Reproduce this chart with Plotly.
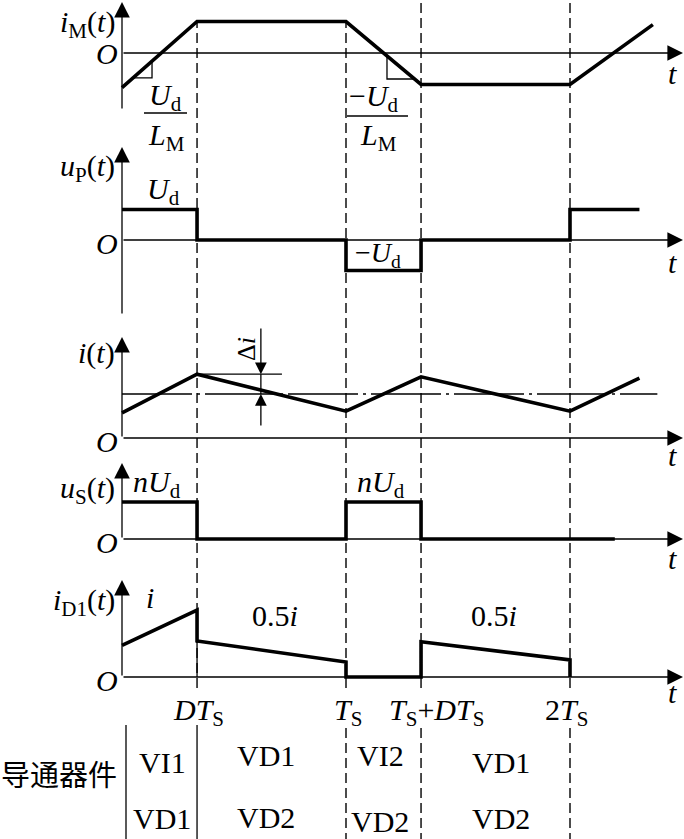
import plotly.graph_objects as go

W, H = 684, 839

# ---------------- data (time in units of T_S) ----------------
D = 0.335
tick_t = [D, 1.0, 1.0 + D, 2.0]
tick_labels = ["<i>DT</i><sub>S</sub>", "<i>T</i><sub>S</sub>",
               "<i>T</i><sub>S</sub>+<i>DT</i><sub>S</sub>", "2<i>T</i><sub>S</sub>"]

iM_t = [0, D, 1, 1 + D, 2, 2.37]
iM_v = [-1.1, 1.0, 1.0, -1.0, -1.0, 0.9]

uP_t = [0, D, D, 1, 1, 1 + D, 1 + D, 2, 2, 2.31]
uP_v = [1, 1, 0, 0, -1, -1, 0, 0, 1, 1]

i_t = [0, D, 1, 1 + D, 2, 2.31]
i_v = [0.57, 1.45, 0.61, 1.39, 0.61, 1.36]
i_avg = 1.0
i_avg_end = 2.39

uS_t = [0, D, D, 1, 1, 1 + D, 1 + D, 2.2]
uS_v = [1, 1, 0, 0, 1, 1, 0, 0]

iD1_t = [0, D, D, 1, 1, 1 + D, 1 + D, 2, 2]
iD1_v = [0.72, 1.52, 0.82, 0.34, 0, 0, 0.80, 0.39, 0]

# slope triangles on i_M
tri1_t = [0.05, 0.134, 0.134]
tri1_v = [-0.79, -0.79, -0.26]
tri2_t = [1.183, 1.183, 1.306]
tri2_v = [-0.09, -0.825, -0.825]

row1 = ["VI1", "VD1", "VI2", "VD1"]
row2 = ["VD1", "VD2", "VD2", "VD2"]
row_lbl = "导通器件"

# ---------------- layout helpers ----------------
X0, PXT = 122.0, 224.0          # pixel of t=0, pixels per T_S
T_END = (683 - X0) / PXT        # arrow tip of time axes


def XP(px):  # pixel -> paper x
    return px / W


def YP(py):  # pixel -> paper y
    return 1 - py / H


# panel: (axis name, zero pixel, pixels per unit, axis top tip px, axis bottom px)
panels = [
    ("y", 53, 31.5, 2, 110),
    ("y2", 240, 30.5, 147, 315),
    ("y3", 438, 44.0, 337, 438),
    ("y4", 539, 37.0, 463, 539),
    ("y5", 677, 44.0, 580, 677),
]

SERIF = "Liberation Serif"
BLACK = "black"
THICK = 3.6
THIN = 1.3
FS = 30

fig = go.Figure()


def line_trace(tt, vv, yax, width=THICK, dash=None):
    fig.add_trace(go.Scatter(x=tt, y=vv, xaxis="x", yaxis=yax, mode="lines",
                             line=dict(color=BLACK, width=width, dash=dash),
                             hoverinfo="skip", showlegend=False))


line_trace(iM_t, iM_v, "y")
line_trace(tri1_t, tri1_v, "y", width=THIN)
line_trace(tri2_t, tri2_v, "y", width=THIN)
line_trace(uP_t, uP_v, "y2")
line_trace([0, i_avg_end], [i_avg, i_avg], "y3", width=THIN, dash="70px,5px,3px,5px")
line_trace(i_t, i_v, "y3")
line_trace([i_t[1], 0.714], [i_v[1], i_v[1]], "y3", width=THIN)
line_trace(uS_t, uS_v, "y4")
line_trace([iD1_t[2], iD1_t[2]], [0, iD1_v[2]], "y5", width=THIN)
line_trace(iD1_t, iD1_v, "y5")

annotations = []
shapes = []

# axes with arrows
for name, zero, scale, top, bot in panels:
    v_top = (zero - top) / scale
    v_bot = (zero - bot) / scale
    annotations.append(dict(x=T_END, y=0, ax=0, ay=0, xref="x", yref=name,
                            axref="x", ayref=name, text="", showarrow=True,
                            arrowhead=2, arrowsize=2.4, arrowwidth=THIN,
                            arrowcolor=BLACK, standoff=0))
    annotations.append(dict(x=0, y=v_top, ax=0, ay=v_bot, xref="x", yref=name,
                            axref="x", ayref=name, text="", showarrow=True,
                            arrowhead=2, arrowsize=2.4, arrowwidth=THIN,
                            arrowcolor=BLACK, standoff=0))

# delta-i dimension arrows (panel 3)
di_t = 0.62
annotations.append(dict(x=di_t, y=i_v[1], ax=di_t, ay=2.52, xref="x", yref="y3",
                        axref="x", ayref="y3", text="", showarrow=True,
                        arrowhead=2, arrowsize=1.8, arrowwidth=THIN,
                        arrowcolor=BLACK, standoff=0))
annotations.append(dict(x=di_t, y=i_avg, ax=di_t, ay=0.25, xref="x", yref="y3",
                        axref="x", ayref="y3", text="", showarrow=True,
                        arrowhead=2, arrowsize=1.8, arrowwidth=THIN,
                        arrowcolor=BLACK, standoff=0))
line_trace([di_t, di_t], [i_avg, i_v[1]], "y3", width=THIN)

# vertical dashed guide lines
guide_top = [21, 20, 0, 0]
for tt, top in zip(tick_t, guide_top):
    shapes.append(dict(type="line", xref="x", yref="paper", x0=tt, x1=tt,
                       y0=YP(688), y1=YP(top),
                       line=dict(color=BLACK, width=1.4, dash="10px,5px")))
# table separators
shapes.append(dict(type="line", xref="paper", yref="paper", x0=XP(126), x1=XP(126),
                   y0=YP(725), y1=0, line=dict(color=BLACK, width=THIN)))
shapes.append(dict(type="line", xref="x", yref="paper", x0=tick_t[0], x1=tick_t[0],
                   y0=YP(725), y1=0, line=dict(color=BLACK, width=THIN)))
for tt in tick_t[1:]:
    shapes.append(dict(type="line", xref="x", yref="paper", x0=tt, x1=tt,
                       y0=YP(728), y1=0,
                       line=dict(color=BLACK, width=1.4, dash="10px,5px")))
# fraction bars
shapes.append(dict(type="line", xref="paper", yref="paper", x0=XP(144), x1=XP(187),
                   y0=YP(113), y1=YP(113), line=dict(color=BLACK, width=THIN)))
shapes.append(dict(type="line", xref="paper", yref="paper", x0=XP(347), x1=XP(408),
                   y0=YP(116), y1=YP(116), line=dict(color=BLACK, width=THIN)))


def lab(text, px, py, size=FS, xanchor="center", yanchor="middle", angle=0, family=SERIF):
    annotations.append(dict(text=text, x=XP(px), y=YP(py), xref="paper", yref="paper",
                            xanchor=xanchor, yanchor=yanchor, showarrow=False,
                            textangle=angle,
                            font=dict(family=family, size=size, color=BLACK)))


# axis names
lab("<i>i</i><sub>M</sub>(<i>t</i>)", 117, 24, xanchor="right")
lab("<i>u</i><sub>P</sub>(<i>t</i>)", 117, 168, xanchor="right")
lab("<i>i</i>(<i>t</i>)", 117, 353, xanchor="right")
lab("<i>u</i><sub>S</sub>(<i>t</i>)", 117, 490, xanchor="right")
lab("<i>i</i><sub>D1</sub>(<i>t</i>)", 117, 602, xanchor="right")
# origins
for oy in [54, 243, 441, 542, 680]:
    lab("<i>O</i>", 107, oy)
# t labels
for ty in [73, 262, 455, 558, 692]:
    lab("<i>t</i>", 672, ty)
# waveform labels
lab("<i>U</i><sub>d</sub>", 165, 97)
lab("<i>L</i><sub>M</sub>", 166, 137)
lab("−<i>U</i><sub>d</sub>", 374, 98)
lab("<i>L</i><sub>M</sub>", 378, 137)
lab("<i>U</i><sub>d</sub>", 163, 191)
lab("−<i>U</i><sub>d</sub>", 378, 254, size=28)
lab("Δ<i>i</i>", 246, 349, size=26, angle=-90)
lab("<i>n</i><i>U</i><sub>d</sub>", 157, 484)
lab("<i>n</i><i>U</i><sub>d</sub>", 381, 484)
lab("<i>i</i>", 150, 597)
lab("0.5<i>i</i>", 275, 615)
lab("0.5<i>i</i>", 494, 615)
# tick labels
tick_px = [198, 348, 437, 566]
for txt, px in zip(tick_labels, tick_px):
    lab(txt, px, 712)
# table
lab(row_lbl, 59, 773, size=29, family="Noto Sans CJK SC")
row_px = [162, 266, 380, 501]
row1_py = [762, 755, 755, 762]
row2_py = [818, 817, 821, 818]
for txt, px, py in zip(row1, row_px, row1_py):
    lab(txt, px, py)
for txt, px, py in zip(row2, row_px, row2_py):
    lab(txt, px, py)

layout_axes = {}
for k, (name, zero, scale, top, bot) in enumerate(panels):
    key = "yaxis" if name == "y" else "yaxis" + name[1:]
    ax = dict(range=[(zero - H) / scale, zero / scale], domain=[0, 1],
              visible=False, fixedrange=True)
    if name != "y":
        ax["overlaying"] = "y"
    layout_axes[key] = ax

fig.update_layout(
    width=W, height=H,
    margin=dict(l=0, r=0, t=0, b=0),
    paper_bgcolor="white", plot_bgcolor="white",
    xaxis=dict(range=[(0 - X0) / PXT, (W - X0) / PXT], domain=[0, 1],
               visible=False, fixedrange=True),
    annotations=annotations, shapes=shapes,
    showlegend=False,
    **layout_axes,
)

fig.write_html("out.html", config={"displayModeBar": False, "staticPlot": True},
               post_script="document.body.style.margin='0px';")
